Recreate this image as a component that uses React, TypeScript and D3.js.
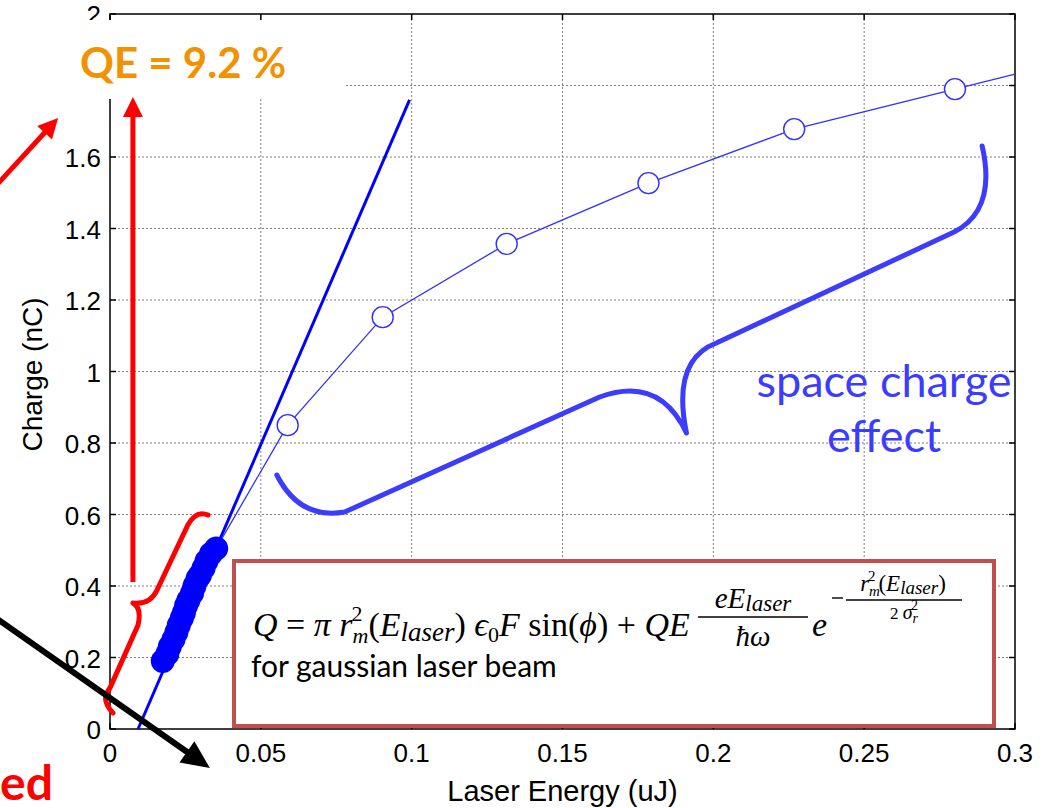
import React from "react";
import * as d3 from "d3";

// axis ticks
const xTicks = [0, 0.05, 0.1, 0.15, 0.2, 0.25, 0.3];
const xTickLabels = ["0", "0.05", "0.1", "0.15", "0.2", "0.25", "0.3"];
const yTicks = [0, 0.2, 0.4, 0.6, 0.8, 1, 1.2, 1.4, 1.6, 1.8, 2];
const yTickLabels = ["0", "0.2", "0.4", "0.6", "0.8", "1", "1.2", "1.4", "1.6", "", "2"];

// measured points, low energy (filled)
const lowE = [0.0175, 0.019, 0.0198, 0.021, 0.022, 0.0228, 0.0238, 0.0245, 0.0252, 0.026, 0.0272, 0.028, 0.029, 0.0298, 0.031, 0.032, 0.0335, 0.0352];
const lowQ = [0.19, 0.21, 0.23, 0.25, 0.27, 0.29, 0.31, 0.325, 0.345, 0.36, 0.38, 0.4, 0.42, 0.43, 0.45, 0.47, 0.49, 0.505];

// measured points, space charge regime (open)
const highE = [0.0589, 0.0904, 0.1315, 0.1785, 0.2268, 0.2801];
const highQ = [0.85, 1.152, 1.357, 1.527, 1.678, 1.79];
// where the thin line leaves the frame
const edgeE = 0.3;
const edgeQ = 1.832;

// linear QE fit
const fitE = [0.0093, 0.0993];
const fitQ = [0, 1.76];

// annotation shapes, data units
const redBrace = [[0.001, 0.045], [-0.0033, 0.081], [0, 0.115], [0.0093, 0.291], [0.0106, 0.3385], [0.0076, 0.3524], [0.0133, 0.347], [0.0156, 0.389], [0.0258, 0.5706], [0.0285, 0.6126], [0.0325, 0.5986]];
const blueBrace = [[0.0553, 0.7105], [0.0629, 0.5846], [0.0778, 0.607], [0.1623, 0.9287], [0.1821, 0.9902], [0.1911, 0.828], [0.1861, 1.032], [0.201, 1.0797], [0.2798, 1.39], [0.294, 1.452], [0.2891, 1.631]];
const redUp = [[0.0076, 0.411], [0.0076, 1.768]];
const redDiag = [[-0.0397, 1.502], [-0.0172, 1.709]];
const blackDiag = [[-0.0397, 0.3217], [0.0331, -0.109]];

const W = 1044;
const H = 808;
const x = d3.scaleLinear().domain([0, 0.3]).range([110, 1015]);
const y = d3.scaleLinear().domain([0, 2]).range([729, 14]);

function bracePath(p: number[][]) {
  // M, Q, L, Q, Q, L, Q pattern
  const P = p.map(([a, b]) => [x(a), y(b)]);
  const s = (i: number) => `${P[i][0]},${P[i][1]}`;
  return `M${s(0)}Q${s(1)} ${s(2)}L${s(3)}Q${s(4)} ${s(5)}Q${s(6)} ${s(7)}L${s(8)}Q${s(9)} ${s(10)}`;
}

function Arrow({ pts, color, width, head, half }: any) {
  const x1 = x(pts[0][0]), y1 = y(pts[0][1]);
  const x2 = x(pts[1][0]), y2 = y(pts[1][1]);
  const dx = x2 - x1, dy = y2 - y1;
  const len = Math.sqrt(dx * dx + dy * dy);
  const ux = dx / len, uy = dy / len;
  const bx = x2 - ux * head, by = y2 - uy * head;
  const poly = [[x2, y2], [bx - uy * half, by + ux * half], [bx + uy * half, by - ux * half]];
  return (
    <g>
      <line x1={x1} y1={y1} x2={bx + ux * 2} y2={by + uy * 2} stroke={color} strokeWidth={width} />
      <polygon points={poly.map((d) => d.join(",")).join(" ")} fill={color} />
    </g>
  );
}

export default function App() {
  const thin = d3.line<number[]>().x((d) => x(d[0])).y((d) => y(d[1]));
  const thinPts = [[lowE[lowE.length - 1], lowQ[lowQ.length - 1]], ...highE.map((e, i) => [e, highQ[i]]), [edgeE, edgeQ]];
  const serif = "'Liberation Serif', 'DejaVu Serif', serif";
  const sans = "Lato, 'Open Sans', sans-serif";
  const fs = 34;
  return (
    <svg width={W} height={H} style={{ position: "absolute", left: 0, top: 0, background: "#fff" }}>
      {/* grid */}
      <g stroke="#808080" strokeWidth={1} strokeDasharray="2,2">
        {xTicks.slice(1, -1).map((t) => (
          <line key={"gx" + t} x1={x(t)} x2={x(t)} y1={y(0)} y2={y(2)} />
        ))}
        {yTicks.slice(1, -1).map((t) => (
          <line key={"gy" + t} x1={x(0)} x2={x(0.3)} y1={y(t)} y2={y(t)} />
        ))}
      </g>
      {/* frame */}
      <rect x={x(0)} y={y(2)} width={x(0.3) - x(0)} height={y(0) - y(2)} fill="none" stroke="#000" strokeWidth={1.5} />
      <g stroke="#000" strokeWidth={1.5}>
        {xTicks.map((t) => (
          <g key={"tx" + t}>
            <line x1={x(t)} x2={x(t)} y1={y(0)} y2={y(0) - 6} />
            <line x1={x(t)} x2={x(t)} y1={y(2)} y2={y(2) + 6} />
          </g>
        ))}
        {yTicks.map((t) => (
          <g key={"ty" + t}>
            <line x1={x(0)} x2={x(0) + 6} y1={y(t)} y2={y(t)} />
            <line x1={x(0.3)} x2={x(0.3) - 6} y1={y(t)} y2={y(t)} />
          </g>
        ))}
      </g>
      <g fontFamily="'Liberation Sans', Arial, sans-serif" fontSize={26} fill="#000">
        {xTicks.map((t, i) => (
          <text key={"lx" + t} x={x(t)} y={y(0) + 33} textAnchor="middle">{xTickLabels[i]}</text>
        ))}
        {yTicks.map((t, i) => (
          <text key={"ly" + t} x={x(0) - 9} y={y(t) + 10} textAnchor="end">{yTickLabels[i]}</text>
        ))}
        <text x={(x(0) + x(0.3)) / 2} y={801} textAnchor="middle" fontSize={29}>Laser Energy (uJ)</text>
        <text transform={`translate(42,${(y(0) + y(2)) / 2 + 3}) rotate(-90)`} textAnchor="middle" fontSize={28}>Charge (nC)</text>
      </g>

      {/* white label box over the top-left corner */}
      <rect x={0} y={20} width={345} height={79} fill="#fff" />
      <text x={80} y={78} fontFamily={sans} fontWeight="bold" fontSize={42} fill="#f39200">QE = 9.2 %</text>

      {/* fit line */}
      <line x1={x(fitE[0])} y1={y(fitQ[0])} x2={x(fitE[1])} y2={y(fitQ[1])} stroke="#0000ff" strokeWidth={3} />

      {/* space charge data */}
      <path d={thin(thinPts) || ""} fill="none" stroke="#3030ff" strokeWidth={1.3} />
      {highE.map((e, i) => (
        <circle key={"o" + i} cx={x(e)} cy={y(highQ[i])} r={10.5} fill="#fff" stroke="#3030ff" strokeWidth={1.4} />
      ))}
      {lowE.map((e, i) => (
        <circle key={"f" + i} cx={x(e)} cy={y(lowQ[i])} r={12} fill="#0000ff" />
      ))}

      {/* braces */}
      <path d={bracePath(redBrace)} fill="none" stroke="#ff0000" strokeWidth={5} strokeLinecap="round" strokeLinejoin="round" />
      <path d={bracePath(blueBrace)} fill="none" stroke="#3c3cff" strokeWidth={5} strokeLinecap="round" strokeLinejoin="round" />
      <g fontFamily={sans} fontSize={45} fill="#3c3cff" textAnchor="middle">
        <text x={884} y={397}>space charge</text>
        <text x={884} y={452}>effect</text>
      </g>

      {/* formula box */}
      <rect x={234} y={561} width={760} height={165} fill="#fff" stroke="#c0504d" strokeWidth={4} />
      <g fontFamily={serif} fontSize={fs} fill="#000">
        <text x={253} y={636}>
          <tspan fontStyle="italic">Q</tspan>
          <tspan> = </tspan>
          <tspan fontStyle="italic">π r</tspan>
          <tspan fontStyle="italic" fontSize={22} dy={7}>m</tspan>
          <tspan fontSize={22} dx={-17} dy={-22}>2</tspan>
          <tspan dx={6} dy={15}>(</tspan>
          <tspan fontStyle="italic">E</tspan>
          <tspan fontStyle="italic" fontSize={27} dy={5}>laser</tspan>
          <tspan dy={-5}>) </tspan>
          <tspan fontStyle="italic">ϵ</tspan>
          <tspan fontSize={22} dy={6}>0</tspan>
          <tspan fontStyle="italic" dy={-6}>F</tspan>
          <tspan> sin(</tspan>
          <tspan fontStyle="italic">ϕ</tspan>
          <tspan>) + </tspan>
          <tspan fontStyle="italic">QE</tspan>
        </text>
        {/* eE_laser / ħω */}
        <text x={753} y={608} textAnchor="middle" fontStyle="italic" fontSize={29}>
          eE<tspan fontSize={23} dy={3}>laser</tspan>
        </text>
        <line x1={698} x2={808} y1={617} y2={617} stroke="#000" strokeWidth={1.4} />
        <text x={753} y={646} textAnchor="middle" fontStyle="italic" fontSize={29}>ħω</text>
        <text x={812} y={636} fontStyle="italic">e</text>
        {/* exponent */}
        <line x1={832} x2={843} y1={598} y2={598} stroke="#000" strokeWidth={1.4} />
        <text x={903} y={591} textAnchor="middle" fontSize={23}>
          <tspan fontStyle="italic">r</tspan>
          <tspan fontStyle="italic" fontSize={15} dy={5}>m</tspan>
          <tspan fontSize={15} dx={-12} dy={-15}>2</tspan>
          <tspan dx={3} dy={10}>(</tspan>
          <tspan fontStyle="italic">E</tspan>
          <tspan fontStyle="italic" fontSize={19} dy={3}>laser</tspan>
          <tspan dy={-3}>)</tspan>
        </text>
        <line x1={846} x2={962} y1={600} y2={600} stroke="#000" strokeWidth={1.3} />
        <text x={904} y={619} textAnchor="middle" fontSize={17}>
          2 <tspan fontStyle="italic" fontSize={20}>σ</tspan>
          <tspan fontStyle="italic" fontSize={14} dy={4}>r</tspan>
          <tspan fontSize={14} dx={-7} dy={-13}>2</tspan>
        </text>
      </g>
      <text x={251} y={677} fontFamily={sans} fontSize={30} fill="#000">for gaussian laser beam</text>

      {/* arrows */}
      <Arrow pts={redUp} color="#ff0000" width={5} head={20} half={10} />
      <Arrow pts={redDiag} color="#ff0000" width={5} head={20} half={10} />
      <Arrow pts={blackDiag} color="#000" width={6} head={28} half={13} />

      <text x={0} y={800} fontFamily={sans} fontWeight="bold" fontSize={48} fill="#ff0000">ed</text>
    </svg>
  );
}
